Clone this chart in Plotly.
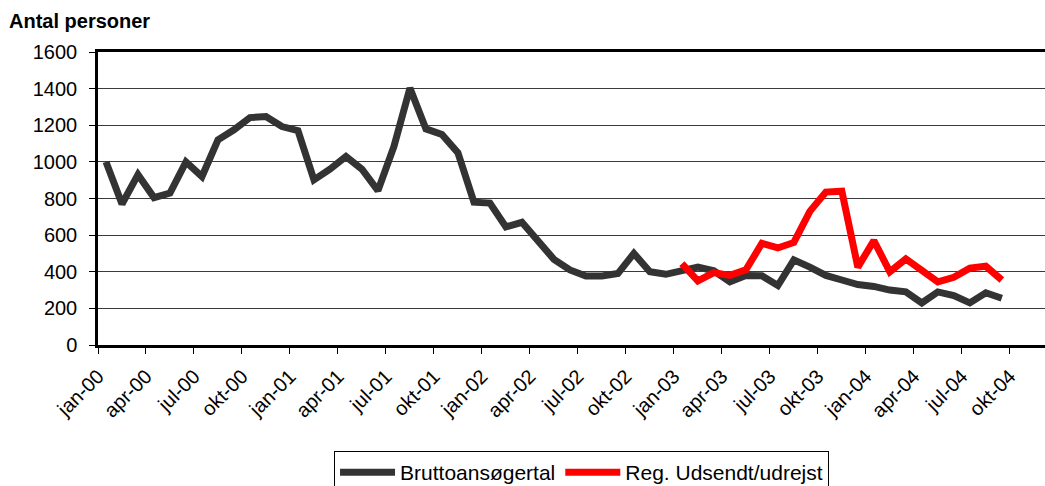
import plotly.graph_objects as go

# Monthly values, jan-00 .. sep-04 (index 0..56)
brutto = [1000, 770, 930, 805, 830, 1000, 920, 1120, 1175, 1242, 1248, 1193,
          1171, 902, 960, 1029, 960, 843, 1084, 1403, 1180, 1150, 1050, 780,
          775, 645, 670, 565, 468, 410, 377, 377, 390, 500, 400, 386,
          405, 425, 405, 345, 380, 378, 325, 465, 425, 380, 355, 330,
          320, 300, 290, 230, 290, 270, 230, 285, 255]

# Reg. Udsendt/udrejst, jan-03 .. sep-04
udsendt_start = 36
udsendt = [445, 350, 395, 380, 410, 555, 530, 560, 730, 835, 840, 425,
           570, 400, 470, 405, 345, 370, 420, 430, 355]

tick_labels = ["jan-00", "apr-00", "jul-00", "okt-00",
               "jan-01", "apr-01", "jul-01", "okt-01",
               "jan-02", "apr-02", "jul-02", "okt-02",
               "jan-03", "apr-03", "jul-03", "okt-03",
               "jan-04", "apr-04", "jul-04", "okt-04"]
y_ticks = [0, 200, 400, 600, 800, 1000, 1200, 1400, 1600]

x_all = list(range(len(brutto)))
x_red = list(range(udsendt_start, udsendt_start + len(udsendt)))
tick_vals = [3 * i - 0.5 for i in range(len(tick_labels))]

FONT = "Liberation Sans, Arial, sans-serif"

fig = go.Figure()
fig.add_trace(go.Scatter(x=x_all, y=brutto, mode="lines", name="Bruttoansøgertal",
                         line=dict(color="#333333", width=7)))
fig.add_trace(go.Scatter(x=x_red, y=udsendt, mode="lines", name="Reg. Udsendt/udrejst",
                         line=dict(color="#FF0000", width=7)))

fig.update_layout(
    width=1045, height=486,
    margin=dict(l=98, r=0, t=52, b=141, autoexpand=False),
    paper_bgcolor="white", plot_bgcolor="white",
    font=dict(family=FONT, size=20, color="black"),
    showlegend=True,
    legend=dict(orientation="h", x=0.5106, xanchor="center", y=-0.362, yanchor="top",
                bordercolor="black", borderwidth=1, bgcolor="white",
                font=dict(size=21), itemwidth=55, tracegroupgap=0),
    title=dict(text="<b>Antal personer</b>", x=9 / 1045, xanchor="left",
               y=1 - 21 / 486, yanchor="middle",
               font=dict(family=FONT, size=20, color="black")),
)

fig.update_xaxes(
    range=[-0.5, 58.7], tickmode="array", tickvals=tick_vals, ticktext=tick_labels,
    tickangle=-45, ticks="outside", ticklen=6, tickwidth=1, tickcolor="black",
    showgrid=False, zeroline=False, showline=True, linecolor="black", linewidth=2.5,
    mirror=True, ticklabelstandoff=3, tickfont=dict(size=20), automargin=False,
)
fig.update_yaxes(
    range=[0, 1600], tickmode="array", tickvals=y_ticks,
    ticks="outside", ticklen=6, tickwidth=1, tickcolor="black",
    showgrid=True, gridcolor="#3a3a3a", gridwidth=1, zeroline=False,
    showline=True, linecolor="black", linewidth=2.5, ticklabelstandoff=8,
    tickfont=dict(size=20), automargin=False,
)

fig.write_html(
    "out.html",
    config={"displayModeBar": False},
    post_script="document.body.style.margin='0';document.body.style.overflow='hidden';"
                "document.documentElement.style.overflow='hidden';",
)
